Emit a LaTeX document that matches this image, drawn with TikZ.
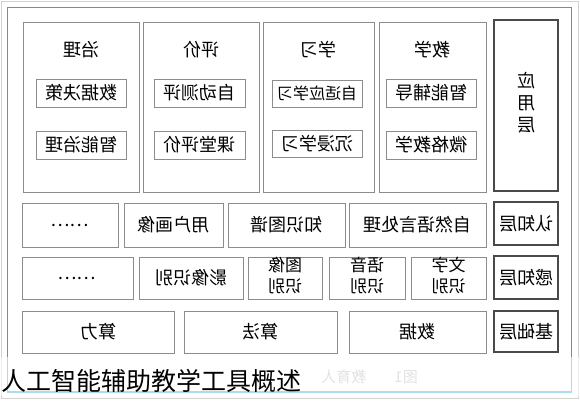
\documentclass[tikz,border=0pt]{standalone}
\usepackage{fontspec}
\usepackage{graphicx}
\setmainfont{Noto Sans CJK SC}
\usetikzlibrary{shadows}
\definecolor{framblue}{HTML}{2AA8DE}
\definecolor{boxgray}{HTML}{8C8C8C}
\definecolor{labgray}{HTML}{4A4A4A}
\newcommand{\mir}[1]{\reflectbox{#1}}
\newcommand{\twol}[2]{\reflectbox{\begin{tabular}{@{}c@{}}#1\\#2\end{tabular}}}
\newcommand{\mybox}[7]{\node[#7, minimum width={(#4-#2)*1pt}, minimum height={(#5-#3)*1pt}] (#1) at ({(#2+#4)/2},{(#3+#5)/2}) {#6};}
\tikzset{
  box/.style={draw=boxgray, line width=0.9pt, fill=white, inner sep=0pt, outer sep=0pt,
    font=\fontsize{18}{20}\selectfont,
    drop shadow={shadow xshift=0.8pt, shadow yshift=-0.8pt, fill=black!45, opacity=0.6}},
  colbox/.style={box, draw=black!45, line width=1pt},
  labbox/.style={box, draw=labgray, line width=1.3pt,
    drop shadow={shadow xshift=1pt, shadow yshift=-1pt, fill=black!60, opacity=0.7}},
  twobox/.style={box, font=\fontsize{17}{21}\selectfont},
  title/.style={inner sep=0pt, font=\fontsize{18}{20}\selectfont},
}
\begin{document}
\begin{tikzpicture}[x=1pt,y=-1pt]
\useasboundingbox (0,0) rectangle (580,400);
\fill[white] (0,0) rectangle (580,400);
\draw[gray!35, line width=0.8pt] (1.5,1.5) rectangle (578.5,398.5);
\draw[framblue, line width=1.6pt] (7.5,7.5) rectangle (571.5,392);

% application layer columns
\mybox{c1}{23}{22}{139}{192}{}{colbox}
\mybox{c2}{143}{22}{259}{192}{}{colbox}
\mybox{c3}{263}{22}{374}{192}{}{colbox}
\mybox{c4}{379}{22}{486}{192}{}{colbox}
\mybox{yy}{494}{20}{558}{191}{\reflectbox{\fontsize{18}{22}\selectfont\begin{tabular}{@{}c@{}}应\\用\\层\end{tabular}}}{labbox}

\node[title] (t1) at (81,50) {\mir{治理}};
\node[title] (t2) at (201,50) {\mir{评价}};
\node[title] (t3) at (318,50) {\mir{学习}};
\node[title] (t4) at (432,50) {\mir{教学}};

\mybox{a1}{36}{79}{126}{107}{\mir{数据决策}}{box}
\mybox{a2}{36}{131}{126}{159}{\mir{智能治理}}{box}
\mybox{b1}{154}{79}{245}{107}{\mir{自动测评}}{box}
\mybox{b2}{154}{131}{245}{159}{\mir{课堂评价}}{box}
\mybox{d1}{272}{80}{362}{107}{\fontsize{16}{18}\selectfont\mir{自适应学习}}{box}
\mybox{d2}{272}{130}{362}{157}{\mir{沉浸学习}}{box}
\mybox{e1}{386}{79}{476}{107}{\mir{智能辅导}}{box}
\mybox{e2}{386}{131}{476}{159}{\mir{微格教学}}{box}

% cognition layer
\mybox{r1}{22}{203}{118}{247}{\mir{……}}{box}
\mybox{r2}{124}{203}{223}{247}{\mir{用户画像}}{box}
\mybox{r3}{228}{203}{345}{247}{\mir{知识图谱}}{box}
\mybox{r4}{349}{203}{486}{247}{\mir{自然语言处理}}{box}
\mybox{rl}{494}{202}{558}{245}{\mir{认知层}}{labbox}

% perception layer
\mybox{p1}{22}{257}{133}{299}{\mir{……}}{box}
\mybox{p2}{139}{257}{243}{299}{\mir{影像识别}}{box}
\mybox{p3}{248}{257}{322}{299}{\twol{图像}{识别}}{twobox}
\mybox{p4}{329}{257}{405}{299}{\twol{语音}{识别}}{twobox}
\mybox{p5}{411}{257}{486}{299}{\twol{文字}{识别}}{twobox}
\mybox{pl}{494}{256}{558}{299}{\mir{感知层}}{labbox}

% basic layer
\mybox{j1}{22}{311}{174}{353}{\mir{算力}}{box}
\mybox{j2}{184}{311}{337}{353}{\mir{算法}}{box}
\mybox{j3}{349}{311}{486}{353}{\mir{数据}}{box}
\mybox{jl}{494}{311}{558}{352}{\mir{基础层}}{labbox}

% faint mirrored figure caption
\node[anchor=east, inner sep=0pt, text=gray!55, font=\fontsize{15}{16}\selectfont] (fig) at (418,377) {\mir{图1\hspace{28pt}教育人}};

% translucent band and overlay caption
\fill[white, opacity=0.6] (0,357) rectangle (580,396);
\node[anchor=west, inner sep=0pt, font=\fontsize{25}{26}\selectfont] (cap) at (1,381) {人工智能辅助教学工具概述};
\end{tikzpicture}
\end{document}
